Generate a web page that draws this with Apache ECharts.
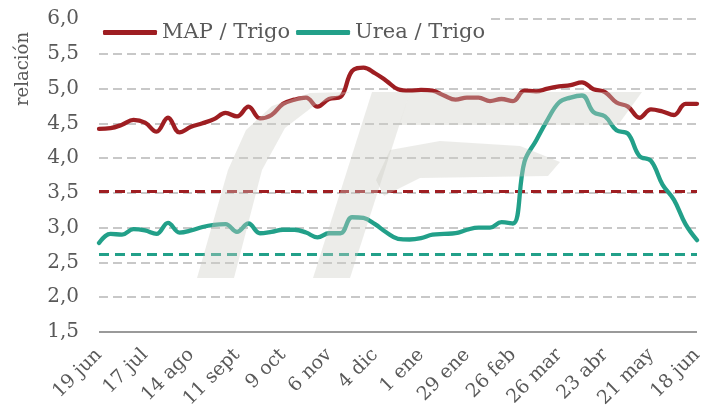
<!DOCTYPE html>
<html>
<head>
<meta charset="utf-8">
<script src="https://cdn.jsdelivr.net/npm/echarts@6/dist/echarts.min.js"></script>
<style>
  html, body { margin: 0; padding: 0; background: #fff; }
  #chart { width: 718px; height: 414px; }
</style>
</head>
<body>
<div id="chart"></div>
<script>
// semanas (jun 2022 - jun 2023)
const categories = [
  '19 jun', '26 jun', '3 jul', '10 jul', '17 jul', '24 jul', '31 jul', '7 ago', '14 ago', '21 ago',
  '28 ago', '4 sept', '11 sept', '18 sept', '25 sept', '2 oct', '9 oct', '16 oct', '23 oct', '30 oct',
  '6 nov', '13 nov', '20 nov', '27 nov', '4 dic', '11 dic', '18 dic', '25 dic', '1 ene', '8 ene',
  '15 ene', '22 ene', '29 ene', '5 feb', '12 feb', '19 feb', '26 feb', '5 mar', '12 mar', '19 mar',
  '26 mar', '2 abr', '9 abr', '16 abr', '23 abr', '30 abr', '7 may', '14 may', '21 may', '28 may',
  '4 jun', '11 jun', '18 jun'
];

const mapTrigo = [
  4.42, 4.43, 4.48, 4.55, 4.51, 4.38, 4.58, 4.37, 4.45, 4.50,
  4.56, 4.65, 4.60, 4.74, 4.57, 4.62, 4.78, 4.84, 4.87, 4.74,
  4.85, 4.88, 5.25, 5.30, 5.22, 5.11, 4.99, 4.97, 4.98, 4.97,
  4.90, 4.84, 4.87, 4.87, 4.82, 4.85, 4.82, 4.97, 4.96, 5.00,
  5.03, 5.05, 5.09, 4.99, 4.95, 4.80, 4.74, 4.58, 4.70, 4.67,
  4.62, 4.78, 4.78
];

const ureaTrigo = [
  2.78, 2.91, 2.90, 2.98, 2.96, 2.91, 3.07, 2.93, 2.96, 3.01,
  3.04, 3.05, 2.94, 3.06, 2.92, 2.94, 2.97, 2.97, 2.93, 2.86,
  2.92, 2.92, 3.15, 3.14, 3.05, 2.93, 2.84, 2.83, 2.85, 2.90,
  2.91, 2.92, 2.97, 3.00, 3.00, 3.08, 3.06, 3.95, 4.25, 4.55,
  4.80, 4.87, 4.90, 4.66, 4.60, 4.40, 4.35, 4.03, 3.96, 3.62,
  3.40, 3.05, 2.82
];

// promedios (líneas punteadas)
const mapAvg = 3.52;
const ureaAvg = 2.62;

// eje y
const yMin = 1.5;
const yMax = 6;
const yStep = 0.5;
const gridTicks = [2.0, 2.5, 3.0, 3.5, 4.0, 4.5, 5.0, 5.5, 6.0];

const RED = '#9e1e22';
const TEAL = '#22a089';
const TXT = '#595959';
const FONT = 'DejaVu Serif';

const chart = echarts.init(document.getElementById('chart'));

// marca de agua (logo gris semitransparente encima)
const wm = 'rgba(205,205,198,0.38)';
const wmShape = pts => ({ type: 'polygon', silent: true, z: 100, shape: { points: pts }, style: { fill: wm } });

// líneas de la grilla dibujadas como markLine (debajo de las series)
const gridMarks = gridTicks.map(v => ({
  yAxis: v,
  lineStyle: { color: '#c8c8c8', width: 2, type: [9, 5] }
}));
gridMarks.push({ yAxis: yMin, lineStyle: { color: '#9a9a9a', width: 2, type: 'solid' } });

chart.setOption({
  animation: false,
  grid: { left: 99, right: 21, top: 19, bottom: 82 },
  legend: {
    left: 99,
    top: 14,
    z: 6,
    padding: [8, 4, 8, 4],
    backgroundColor: '#fff',
    itemWidth: 54,
    itemHeight: 5,
    itemGap: 6,
    icon: 'roundRect',
    textStyle: { color: TXT, fontSize: 21, fontFamily: FONT },
    data: ['MAP / Trigo', 'Urea / Trigo']
  },
  xAxis: {
    type: 'category',
    data: categories,
    boundaryGap: false,
    axisLine: { show: false },
    axisTick: { show: false },
    splitLine: { show: false },
    axisLabel: {
      interval: 3,
      rotate: 45,
      margin: 20,
      color: TXT,
      fontSize: 19,
      fontFamily: FONT
    }
  },
  yAxis: {
    type: 'value',
    min: yMin,
    max: yMax,
    interval: yStep,
    axisLine: { show: false },
    axisTick: { show: false },
    splitLine: { show: false },
    axisLabel: {
      margin: 20,
      color: TXT,
      fontSize: 20,
      fontFamily: FONT,
      formatter: v => v.toFixed(1).replace('.', ',')
    }
  },
  graphic: [
    {
      type: 'text',
      left: 14,
      top: 32,
      rotation: Math.PI / 2,
      style: { text: 'relación', fill: TXT, font: '18px "DejaVu Serif"' }
    },
    wmShape([[197, 278], [234, 278], [262, 170], [285, 128], [315, 105], [350, 92], [310, 93], [272, 106], [246, 130], [228, 170]]),
    wmShape([[313, 278], [350, 278], [410, 92], [372, 92]]),
    wmShape([[410, 92], [642, 92], [618, 125], [399, 125]]),
    wmShape([[390, 150], [440, 141], [520, 146], [560, 162], [548, 176], [420, 178], [384, 196], [376, 180]])
  ],
  series: [
    {
      name: 'MAP / Trigo',
      type: 'line',
      data: mapTrigo,
      smooth: 0.4,
      symbol: 'none',
      z: 3,
      lineStyle: { color: RED, width: 4.3, cap: 'round' },
      itemStyle: { color: RED },
      markLine: {
        silent: true,
        z: 1,
        symbol: 'none',
        label: { show: false },
        data: gridMarks.concat([
          { yAxis: mapAvg, lineStyle: { color: RED, width: 3.2, type: [10, 6] } }
        ])
      }
    },
    {
      name: 'Urea / Trigo',
      type: 'line',
      data: ureaTrigo,
      smooth: 0.4,
      symbol: 'none',
      z: 3,
      lineStyle: { color: TEAL, width: 4.3, cap: 'round' },
      itemStyle: { color: TEAL },
      markLine: {
        silent: true,
        z: 1,
        symbol: 'none',
        label: { show: false },
        lineStyle: { color: TEAL, width: 3.2, type: [10, 6] },
        data: [{ yAxis: ureaAvg }]
      }
    }
  ]
});
</script>
</body>
</html>
